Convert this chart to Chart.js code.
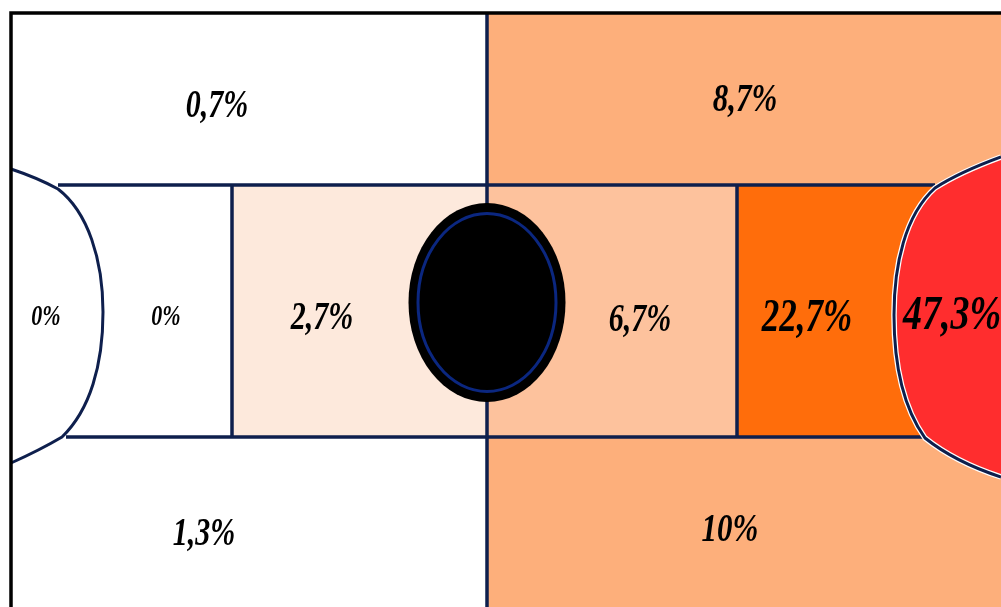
<!DOCTYPE html>
<html>
<head>
<meta charset="utf-8">
<script src="https://cdn.jsdelivr.net/npm/chart.js@4.4.1/dist/chart.umd.min.js"></script>
<style>
  html, body { margin: 0; padding: 0; background: #ffffff; }
  #wrap { width: 1001px; height: 607px; position: relative; }
</style>
</head>
<body>
<div id="wrap"><canvas id="c"></canvas></div>
<script>
// ---- data ----
const zones = ['Top left', 'Top right', 'Left goal area', 'Left box', 'Left middle',
               'Right middle', 'Right box', 'Right goal area', 'Bottom left', 'Bottom right'];
const shares = [0.7, 8.7, 0, 0, 2.7, 6.7, 22.7, 47.3, 1.3, 10];

// ---- geometry (pitch units, y downwards) ----
const P = { left: 11, top: 13, right: 1001, bottom: 607, mid: 487,
            bandTop: 185, bandBottom: 437, boxL: 232, boxR: 737 };
const labelPos = {
  'Top left': [217, 107], 'Top right': [745, 101], 'Left goal area': [46, 318],
  'Left box': [166, 318], 'Left middle': [322, 319], 'Right middle': [640, 321],
  'Right box': [807, 319], 'Right goal area': [952, 316],
  'Bottom left': [204, 535], 'Bottom right': [730, 531]
};
const labelSize = {
  'Top left': 30, 'Top right': 31, 'Left goal area': 22, 'Left box': 22,
  'Left middle': 30, 'Right middle': 30, 'Right box': 35, 'Right goal area': 38,
  'Bottom left': 30, 'Bottom right': 31
};
const zoneColor = {
  'Top right': '#FDAF7B', 'Bottom right': '#FDAF7B', 'Left middle': '#FDE9DC',
  'Right middle': '#FDC29D', 'Right box': '#FF6D0B', 'Right goal area': '#FF2D2E'
};
const LINE = '#0E1F4D';

const pitchPlugin = {
  id: 'pitch',
  beforeDatasetsDraw(chart) {
    const ctx = chart.ctx, sx = chart.scales.x, sy = chart.scales.y;
    const X = v => sx.getPixelForValue(v), Y = v => sy.getPixelForValue(v);
    const rect = (x0, y0, x1, y1, c) => {
      ctx.fillStyle = c; ctx.fillRect(X(x0), Y(y0), X(x1) - X(x0), Y(y1) - Y(y0));
    };
    ctx.save();
    rect(0, 0, 1001, 607, '#ffffff');
    rect(P.mid, P.top, P.right, P.bandTop, zoneColor['Top right']);
    rect(P.mid, P.bandBottom, P.right, P.bottom, zoneColor['Bottom right']);
    rect(P.boxL, P.bandTop, P.mid, P.bandBottom, zoneColor['Left middle']);
    rect(P.mid, P.bandTop, P.boxR, P.bandBottom, zoneColor['Right middle']);
    rect(P.boxR, P.bandTop, 945, P.bandBottom, zoneColor['Right box']);

    const rightArc = () => {
      ctx.moveTo(X(1001), Y(157));
      ctx.quadraticCurveTo(X(960), Y(172), X(935), Y(188));
      ctx.bezierCurveTo(X(905), Y(215), X(894), Y(265), X(894), Y(315));
      ctx.bezierCurveTo(X(894), Y(370), X(905), Y(410), X(925), Y(438));
      ctx.quadraticCurveTo(X(955), Y(462), X(1001), Y(477));
    };
    const leftArc = () => {
      ctx.moveTo(X(11), Y(169));
      ctx.quadraticCurveTo(X(38), Y(178), X(58), Y(189));
      ctx.bezierCurveTo(X(88), Y(212), X(103), Y(260), X(103), Y(312));
      ctx.bezierCurveTo(X(103), Y(365), X(90), Y(410), X(62), Y(437));
      ctx.quadraticCurveTo(X(40), Y(450), X(11), Y(463));
    };
    // red goal area
    ctx.beginPath(); rightArc(); ctx.closePath();
    ctx.fillStyle = zoneColor['Right goal area']; ctx.fill();

    // lines
    ctx.strokeStyle = LINE; ctx.lineWidth = 3.5; ctx.lineCap = 'butt';
    const line = (x0, y0, x1, y1) => {
      ctx.beginPath(); ctx.moveTo(X(x0), Y(y0)); ctx.lineTo(X(x1), Y(y1)); ctx.stroke();
    };
    line(58, P.bandTop, 935, P.bandTop);
    line(66, P.bandBottom, 925, P.bandBottom);
    line(P.boxL, P.bandTop, P.boxL, P.bandBottom);
    line(P.boxR, P.bandTop, P.boxR, P.bandBottom);
    line(P.mid, P.top, P.mid, P.bottom);
    ctx.lineWidth = 3;
    ctx.beginPath(); leftArc(); ctx.stroke();
    ctx.strokeStyle = '#ffffff'; ctx.lineWidth = 5.5;
    ctx.beginPath(); rightArc(); ctx.stroke();
    ctx.strokeStyle = LINE; ctx.lineWidth = 3;
    ctx.beginPath(); rightArc(); ctx.stroke();

    // outer border
    ctx.strokeStyle = '#000000'; ctx.lineWidth = 3.5;
    ctx.beginPath();
    ctx.moveTo(X(11), Y(607)); ctx.lineTo(X(11), Y(13)); ctx.lineTo(X(1001), Y(13));
    ctx.stroke();

    // centre spot
    const cx = X(487), cy = Y(302.5);
    ctx.beginPath();
    ctx.ellipse(cx, cy, X(78.5) - X(0), Y(99.5) - Y(0), 0, 0, Math.PI * 2);
    ctx.fillStyle = '#000000'; ctx.fill();
    ctx.beginPath();
    ctx.ellipse(cx, cy, X(69) - X(0), Y(89) - Y(0), 0, 0, Math.PI * 2);
    ctx.strokeStyle = '#0B2780'; ctx.lineWidth = 3; ctx.stroke();
    ctx.restore();
  },
  afterDatasetsDraw(chart) {
    const ctx = chart.ctx;
    const meta = chart.getDatasetMeta(0);
    ctx.save();
    ctx.fillStyle = '#000000';
    ctx.textAlign = 'center';
    ctx.textBaseline = 'middle';
    meta.data.forEach((pt, i) => {
      const z = zones[i];
      const txt = String(shares[i]).replace('.', ',') + '%';
      ctx.save();
      ctx.translate(pt.x, pt.y);
      ctx.scale(1, 1.3);
      ctx.font = 'italic bold ' + labelSize[z] + 'px "Liberation Serif", "DejaVu Serif", serif';
      ctx.fillText(txt, 0, 0);
      ctx.restore();
    });
    ctx.restore();
  }
};

new Chart(document.getElementById('c'), {
  type: 'scatter',
  data: {
    datasets: [{
      label: 'Share of actions',
      data: zones.map((z, i) => ({ x: labelPos[z][0], y: labelPos[z][1], v: shares[i] })),
      pointRadius: 0,
      pointHoverRadius: 0
    }]
  },
  options: {
    responsive: true,
    maintainAspectRatio: false,
    animation: false,
    layout: { padding: 0 },
    plugins: { legend: { display: false }, tooltip: { enabled: false } },
    scales: {
      x: { type: 'linear', min: 0, max: 1001, display: false },
      y: { type: 'linear', min: 0, max: 607, reverse: true, display: false }
    }
  },
  plugins: [pitchPlugin]
});
</script>
</body>
</html>
